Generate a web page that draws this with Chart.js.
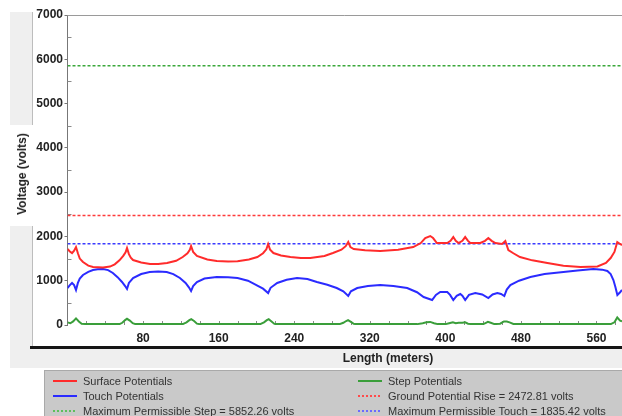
<!DOCTYPE html>
<html>
<head>
<meta charset="utf-8">
<script src="https://cdn.jsdelivr.net/npm/chart.js@4.4.1/dist/chart.umd.min.js"></script>
<style>
  body { margin: 0; background: #fff; font-family: "Liberation Sans", Arial, sans-serif; }
  #wrap { position: relative; width: 622px; height: 416px; overflow: hidden; }
  .abs { position: absolute; }
  #outer { left: 10px; top: 12px; width: 612px; height: 356px; background: #efefef; }
  #inner { left: 33px; top: 12px; width: 589px; height: 334px; background: #fff; }
  #titleBg { left: 10px; top: 125px; width: 23px; height: 101px; background: #fff; }
  .vline { left: 32px; width: 1px; background: #bdbdbd; }
  #bottomLine { left: 30px; top: 346px; width: 592px; height: 3px; background: #151515; }
  #chart { left: 0; top: 0; }
  #yTitle { left: 22px; top: 174px; transform: translate(-50%, -50%) rotate(-90deg); font-weight: bold; font-size: 12px; color: #222; white-space: nowrap; }
  #xTitle { left: 388px; top: 358px; transform: translate(-50%, -50%); font-weight: bold; font-size: 12px; color: #222; white-space: nowrap; }
  #legend { left: 44px; top: 370px; width: 600px; height: 60px; background: #c9c9c9; border: 1px solid #a9a9a9; }
  .item { position: absolute; font-size: 11px; line-height: 14px; color: #333; white-space: nowrap; }
  .swatch { position: absolute; width: 24px; }
  .dash { position: absolute; width: 2px; height: 2px; }
</style>
</head>
<body>
<div id="wrap">
  <div id="outer" class="abs"></div>
  <div id="inner" class="abs"></div>
  <div id="titleBg" class="abs"></div>
  <div class="abs vline" style="top:12px;height:113px"></div>
  <div class="abs vline" style="top:226px;height:120px"></div>
  <div id="bottomLine" class="abs"></div>
  <canvas id="chart" class="abs" width="622" height="416"></canvas>
  <div id="yTitle" class="abs">Voltage (volts)</div>
  <div id="xTitle" class="abs">Length (meters)</div>
  <div id="legend" class="abs"></div>
</div>
<script>
// values (length in metres, voltage in volts)
const surfaceX = [0, 2.5, 4.8, 7, 9, 11, 13, 16.4, 22, 27, 37.6, 45, 50, 55, 59, 61.5, 63, 65, 67, 69.4, 78, 87.4, 96, 105.4, 115, 122, 127, 129.5, 130.8, 133, 137, 148, 158, 170, 180, 192, 201, 207, 210.5, 212.4, 214.5, 218, 226, 236, 247, 257, 272, 281, 290, 294.5, 297.2, 299.5, 303, 315, 331, 350, 366, 374, 378.7, 384, 387, 391, 402, 405.5, 408.4, 411, 414, 418, 421, 424, 426.4, 437, 442, 445.5, 449, 453, 460, 463.5, 466.7, 472, 479, 492, 508, 525, 543, 561, 570, 575, 579, 582, 585, 587];
const surfaceV = [1716, 1660, 1625, 1680, 1761, 1620, 1500, 1422, 1340, 1309, 1300, 1320, 1370, 1460, 1560, 1640, 1738, 1600, 1520, 1467, 1410, 1380, 1380, 1400, 1450, 1535, 1620, 1700, 1783, 1650, 1558, 1480, 1445, 1435, 1440, 1480, 1535, 1620, 1710, 1828, 1700, 1625, 1570, 1535, 1512, 1512, 1560, 1625, 1700, 1780, 1874, 1760, 1716, 1690, 1670, 1700, 1761, 1850, 1964, 2009, 1964, 1851, 1851, 1900, 1986, 1900, 1851, 1900, 1986, 1900, 1851, 1851, 1900, 1964, 1900, 1851, 1828, 1896, 1693, 1620, 1535, 1460, 1400, 1340, 1309, 1320, 1400, 1512, 1650, 1874, 1830, 1806];

const touchX = [0, 2.5, 4.8, 7, 9, 11, 13, 16.4, 22, 27, 32, 37.6, 43, 48, 53, 57.7, 61, 63, 65, 69.4, 78, 87, 96, 105, 112, 119, 125, 128.5, 130.8, 133, 137, 145, 158, 170, 180, 191, 200, 207, 212.4, 215, 222, 232, 243, 254, 264, 275, 285, 292, 297.2, 300, 306.7, 318, 331, 345, 359.6, 370, 377, 386, 390, 394.6, 402, 405, 408.4, 412, 415.8, 418, 421, 425, 431.7, 439, 445.5, 450, 455, 459, 462.4, 465, 468.8, 478, 490, 505, 525, 540, 556.7, 566, 571.5, 575, 577.9, 580, 582.1, 585, 587];
const touchV = [835, 900, 948, 900, 790, 950, 1050, 1129, 1200, 1242, 1260, 1264, 1240, 1174, 1080, 971, 880, 813, 950, 1061, 1150, 1196, 1210, 1196, 1150, 1061, 950, 850, 767, 880, 971, 1050, 1084, 1080, 1061, 1000, 903, 820, 722, 840, 948, 1020, 1061, 1040, 971, 910, 835, 760, 655, 760, 835, 880, 903, 880, 835, 740, 632, 564, 680, 745, 745, 680, 564, 660, 700, 660, 564, 680, 722, 690, 609, 690, 722, 700, 655, 800, 903, 1000, 1084, 1150, 1196, 1230, 1264, 1250, 1219, 1150, 1016, 860, 677, 740, 790];

const stepX = [0, 3, 6, 9, 12, 15, 20, 55, 58, 61, 63, 66, 69, 72, 122, 126, 129, 131, 134, 137, 140, 204, 208, 211, 213, 216, 219, 222, 288, 292, 295, 297, 300, 303, 306, 370, 376, 380, 384, 388, 392, 400, 404, 408, 411, 414, 418, 421, 424, 428, 440, 443, 445, 448, 452, 458, 462, 465, 468, 472, 476, 575, 579, 582, 585, 587];
const stepV = [60, 40, 80, 150, 80, 30, 20, 20, 50, 110, 140, 100, 40, 20, 20, 60, 110, 130, 90, 30, 20, 20, 60, 110, 130, 80, 25, 20, 20, 50, 90, 110, 70, 25, 20, 20, 40, 60, 70, 40, 20, 20, 40, 60, 40, 50, 50, 60, 30, 20, 20, 50, 70, 50, 20, 30, 80, 80, 60, 25, 20, 20, 60, 170, 100, 80];

const maxStep = 5852.26;
const groundRise = 2472.81;
const maxTouch = 1835.42;

const xMin = 0, xMax = 587;
const yTicks = [0, 1000, 2000, 3000, 4000, 5000, 6000, 7000];
const xTickStep = 80;

const toPoints = (xs, vs) => xs.map((x, i) => ({ x: x, y: vs[i] }));
const flat = v => [{ x: xMin, y: v }, { x: xMax, y: v }];

const minorTicks = {
    id: 'minorTicks',
    beforeDatasetsDraw(chart) {
        const { ctx, chartArea, scales } = chart;
        ctx.save();
        ctx.strokeStyle = '#8a8a8a';
        ctx.lineWidth = 1;
        ctx.beginPath();
        for (let v = 500; v < 7000; v += 1000) {
            const py = Math.round(scales.y.getPixelForValue(v)) + 0.5;
            ctx.moveTo(chartArea.left, py);
            ctx.lineTo(chartArea.left + 4, py);
        }
        for (let v = 20; v < xMax; v += 20) {
            const px = Math.round(scales.x.getPixelForValue(v)) + 0.5;
            ctx.moveTo(px, chartArea.bottom);
            ctx.lineTo(px, chartArea.bottom - 4);
        }
        ctx.stroke();
        ctx.strokeStyle = '#9a9a9a';
        ctx.beginPath();
        ctx.moveTo(chartArea.left, chartArea.top + 0.5);
        ctx.lineTo(chartArea.right, chartArea.top + 0.5);
        ctx.stroke();
        ctx.restore();
    }
};

const ctx = document.getElementById('chart').getContext('2d');
new Chart(ctx, {
    type: 'line',
    data: {
        datasets: [
            { label: 'Surface Potentials', data: toPoints(surfaceX, surfaceV), borderColor: '#ff2b2b', borderWidth: 2, order: 1 },
            { label: 'Touch Potentials', data: toPoints(touchX, touchV), borderColor: '#2b2bff', borderWidth: 2, order: 2 },
            { label: 'Step Potentials', data: toPoints(stepX, stepV), borderColor: '#3a9e3a', borderWidth: 2, order: 3 },
            { label: 'Maximum Permissible Step', data: flat(maxStep), borderColor: '#3aa83a', borderWidth: 1.5, borderDash: [3, 2], order: 4 },
            { label: 'Ground Potential Rise', data: flat(groundRise), borderColor: '#ff3a3a', borderWidth: 1.5, borderDash: [3, 2], order: 5 },
            { label: 'Maximum Permissible Touch', data: flat(maxTouch), borderColor: '#3a3aff', borderWidth: 1.5, borderDash: [3, 2], order: 6 },
        ],
    },
    options: {
        responsive: false,
        animation: false,
        devicePixelRatio: 1,
        elements: { point: { radius: 0 }, line: { tension: 0 } },
        layout: { padding: { top: 15, bottom: 48, left: 0, right: 0 } },
        plugins: { legend: { display: false }, tooltip: { enabled: false } },
        scales: {
            x: {
                type: 'linear',
                min: xMin,
                max: xMax,
                grid: { display: false, drawTicks: false },
                border: { display: false },
                ticks: {
                    stepSize: xTickStep,
                    includeBounds: false,
                    maxRotation: 0,
                    autoSkip: false,
                    padding: 6,
                    color: '#222',
                    font: { family: 'Liberation Sans', size: 12, weight: 'bold' },
                    callback: v => (v === 0 ? '' : String(v)),
                },
                afterFit: scale => { scale.height = 43; },
            },
            y: {
                min: yTicks[0],
                max: yTicks[yTicks.length - 1],
                grid: { drawOnChartArea: false, drawTicks: true, tickLength: 3, color: '#777' },
                border: { display: true, color: '#777', width: 1 },
                ticks: {
                    stepSize: 1000,
                    padding: 1.5,
                    color: '#222',
                    font: { family: 'Liberation Sans', size: 12, weight: 'bold' },
                    callback: v => String(v),
                },
                afterFit: scale => { scale.width = 67.5; },
            },
        },
    },
    plugins: [minorTicks],
});

// legend below the chart, two columns
const legendItems = [
    { text: 'Surface Potentials', color: '#ff2b2b', dotted: false, col: 0, row: 0 },
    { text: 'Touch Potentials', color: '#2b2bff', dotted: false, col: 0, row: 1 },
    { text: 'Maximum Permissible Step = 5852.26 volts', color: '#5cc05c', dotted: true, col: 0, row: 2 },
    { text: 'Step Potentials', color: '#3a9e3a', dotted: false, col: 1, row: 0 },
    { text: 'Ground Potential Rise = 2472.81 volts', color: '#ff4a4a', dotted: true, col: 1, row: 1 },
    { text: 'Maximum Permissible Touch = 1835.42 volts', color: '#6a6aff', dotted: true, col: 1, row: 2 },
];
const legend = document.getElementById('legend');
legendItems.forEach(item => {
    const left = item.col === 0 ? 8 : 313;
    const cy = 10 + item.row * 15;
    if (item.dotted) {
        for (let i = 0; i < 6; i++) {
            const d = document.createElement('div');
            d.className = 'dash';
            d.style.left = (left + i * 4) + 'px';
            d.style.top = (cy - 1) + 'px';
            d.style.background = item.color;
            legend.appendChild(d);
        }
    } else {
        const sw = document.createElement('div');
        sw.className = 'swatch';
        sw.style.left = left + 'px';
        sw.style.top = (cy - 1) + 'px';
        sw.style.height = '2px';
        sw.style.background = item.color;
        legend.appendChild(sw);
    }
    const t = document.createElement('div');
    t.className = 'item';
    t.style.left = (left + 30) + 'px';
    t.style.top = (cy - 7) + 'px';
    t.textContent = item.text;
    legend.appendChild(t);
});
</script>
</body>
</html>
